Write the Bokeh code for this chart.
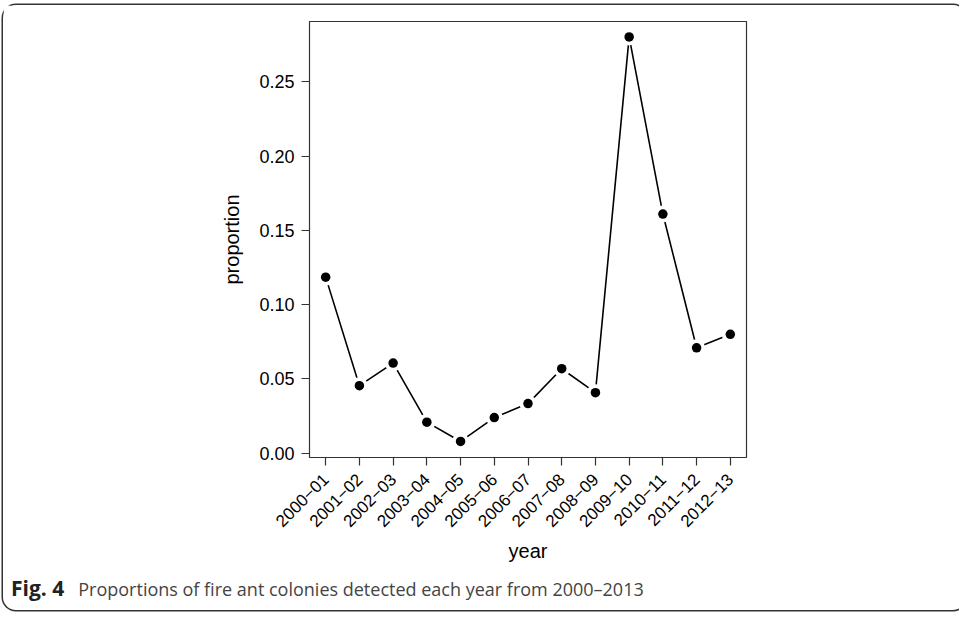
import math
from bokeh.plotting import figure
from bokeh.layouts import column
from bokeh.models import Range1d, FixedTicker, NumeralTickFormatter, Div
from bokeh.embed import file_html
from bokeh.resources import INLINE

years = ["2000\u221201", "2001\u221202", "2002\u221203", "2003\u221204", "2004\u221205",
         "2005\u221206", "2006\u221207", "2007\u221208", "2008\u221209", "2009\u221210",
         "2010\u221211", "2011\u221212", "2012\u221213"]
proportion = [0.1185, 0.0454, 0.0606, 0.0208, 0.0078, 0.0239, 0.0333,
              0.0568, 0.0407, 0.2803, 0.1610, 0.0709, 0.0800]
y_ticks = [0.00, 0.05, 0.10, 0.15, 0.20, 0.25]
caption_label = "Fig. 4"
caption_text = "Proportions of fire ant colonies detected each year from 2000\u20132013"

xs = list(range(len(years)))

FONT = "Liberation Sans"

p = figure(
    output_backend="svg", toolbar_location=None,
    frame_width=437, frame_height=436,
    min_border_left=306, min_border_right=210,
    min_border_top=16, min_border_bottom=113,
    x_range=Range1d(-0.48, 12.48), y_range=Range1d(-0.003, 0.2907),
)
p.background_fill_color = "white"
p.border_fill_color = "white"
p.outline_line_color = "#333333"
p.outline_line_width = 1.2
p.xgrid.visible = False
p.ygrid.visible = False

p.line(xs, proportion, line_color="black", line_width=1.6)
p.scatter(xs, proportion, size=17, fill_color="white", line_color=None)
p.scatter(xs, proportion, size=9.5, fill_color="black", line_color=None)

for ax in (p.xaxis[0], p.yaxis[0]):
    ax.axis_line_color = None
    ax.major_tick_line_color = "#333333"
    ax.major_tick_line_width = 1.2
    ax.major_tick_out = 8
    ax.major_tick_in = 0
    ax.minor_tick_line_color = None
    ax.major_label_text_font = FONT
    ax.major_label_text_font_size = "18px"
    ax.major_label_text_color = "black"
    ax.axis_label_text_font = FONT
    ax.axis_label_text_font_size = "20px"
    ax.axis_label_text_font_style = "normal"
    ax.axis_label_text_color = "black"

p.yaxis[0].ticker = FixedTicker(ticks=y_ticks)
p.yaxis[0].formatter = NumeralTickFormatter(format="0.00")
p.yaxis[0].major_label_standoff = 7
p.yaxis[0].axis_label = "proportion"
p.yaxis[0].axis_label_standoff = 13

p.xaxis[0].ticker = FixedTicker(ticks=xs)
p.xaxis[0].major_label_overrides = {i: t for i, t in enumerate(years)}
p.xaxis[0].major_label_orientation = math.pi / 4
p.xaxis[0].major_label_text_font_size = "17px"
p.xaxis[0].major_label_standoff = 11
p.xaxis[0].axis_label = "year"
p.xaxis[0].axis_label_standoff = 5

cap = Div(
    text=('<span style="font-weight:bold;font-size:21px;color:#222222;margin-left:3px">'
          + caption_label + '</span><span style="margin-left:14px">' + caption_text + '</span>'),
    width=953, height=30,
    styles={"font-family": "Open Sans", "font-size": "18px", "line-height": "26px",
            "color": "#444444"},
)

layout = column(
    p, cap, spacing=0,
    styles={"position": "relative", "left": "3px", "top": "5px",
            "border-radius": "13px", "box-shadow": "0 0 0 1.5px #333333",
            "background-color": "white"},
)

open("out.html", "w").write(file_html(layout, INLINE))
